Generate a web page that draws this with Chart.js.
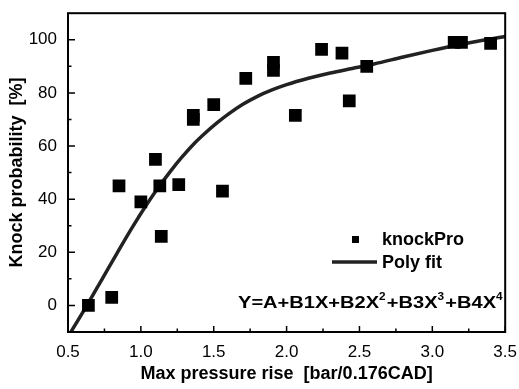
<!DOCTYPE html>
<html>
<head>
<meta charset="utf-8">
<script src="https://cdn.jsdelivr.net/npm/chart.js@4.4.1/dist/chart.umd.min.js"></script>
<style>
  html, body { margin: 0; padding: 0; background: #fff; }
  #wrap { width: 519px; height: 389px; }
</style>
</head>
<body>
<div id="wrap"><canvas id="knockChart"></canvas></div>
<script>
'use strict';

// ---- values ----
const knockX = [0.64, 0.80, 0.85, 1.00, 1.10, 1.13, 1.14, 1.26, 1.36, 1.36, 1.50, 1.56, 1.72, 1.91, 1.91, 2.06, 2.24, 2.38, 2.43, 2.55, 3.15, 3.20, 3.40];
const knockY = [0, 3, 45, 39, 55, 45, 26, 45.5, 70, 71.5, 75.6, 43, 85.5, 88.5, 91.5, 71.5, 96.4, 95, 77, 90, 99, 99, 98.6];

// poly fit curve, traced
const fitX = [0.52, 0.63, 0.74, 0.84, 0.94, 1.04, 1.12, 1.20, 1.28, 1.36, 1.44, 1.52, 1.60, 1.70, 1.80, 1.90, 2.00, 2.15, 2.30, 2.45, 2.60, 2.80, 3.00, 3.20, 3.50];
const fitY = [-10, 0, 10.5, 20, 29.3, 38, 44.4, 50.3, 55.7, 60.6, 64.8, 68.6, 72, 75.7, 78.7, 81.1, 83.1, 85.5, 87.5, 89.2, 90.9, 93.5, 96, 98.3, 101.2];

const xTicks = [0.5, 1.0, 1.5, 2.0, 2.5, 3.0, 3.5];
const xMinorTicks = [0.75, 1.25, 1.75, 2.25, 2.75, 3.25];
const yTicks = [0, 20, 40, 60, 80, 100];
const yMinorTicks = [10, 30, 50, 70, 90];

const FONT = '"Liberation Sans", Arial, sans-serif';
const toPoints = (xs, ys) => xs.map((x, i) => ({ x: x, y: ys[i] }));

// frame, inward ticks, legend and equation
const framePlugin = {
  id: 'frame',
  afterDraw(chart) {
    const { ctx, chartArea: a, scales } = chart;
    const sx = scales.x, sy = scales.y;
    ctx.save();
    ctx.strokeStyle = '#000';
    ctx.lineWidth = 2;
    ctx.strokeRect(a.left, a.top, a.right - a.left, a.bottom - a.top);

    ctx.lineWidth = 1.5;
    ctx.beginPath();
    xTicks.forEach(v => { const p = sx.getPixelForValue(v); ctx.moveTo(p, a.bottom); ctx.lineTo(p, a.bottom - 6); });
    xMinorTicks.forEach(v => { const p = sx.getPixelForValue(v); ctx.moveTo(p, a.bottom); ctx.lineTo(p, a.bottom - 3.5); });
    yTicks.forEach(v => { const p = sy.getPixelForValue(v); ctx.moveTo(a.left, p); ctx.lineTo(a.left + 7, p); });
    yMinorTicks.forEach(v => { const p = sy.getPixelForValue(v); ctx.moveTo(a.left, p); ctx.lineTo(a.left + 3.5, p); });
    ctx.stroke();

    // legend
    ctx.fillStyle = '#000';
    ctx.fillRect(352, 236, 7, 7);
    ctx.strokeStyle = '#222';
    ctx.lineWidth = 3.5;
    ctx.beginPath();
    ctx.moveTo(332, 262);
    ctx.lineTo(377, 262);
    ctx.stroke();
    ctx.font = 'bold 18px ' + FONT;
    ctx.textBaseline = 'middle';
    ctx.textAlign = 'left';
    ctx.fillText('knockPro', 382, 240);
    ctx.fillText('Poly fit', 382, 263);

    // equation with superscripts (glyphs in the original are wide)
    const parts = [['Y=A+B1X+B2X', false], ['2', true], ['+B3X', false], ['3', true], ['+B4X', false], ['4', true]];
    ctx.translate(238, 308);
    ctx.scale(1.18, 1);
    let x = 0;
    ctx.textBaseline = 'alphabetic';
    parts.forEach(([t, sup]) => {
      ctx.font = sup ? 'bold 10px ' + FONT : 'bold 17px ' + FONT;
      ctx.fillText(t, x, sup ? -8 : 0);
      x += ctx.measureText(t).width + (sup ? 1 : 0);
    });
    ctx.restore();
  },
};

new Chart(document.getElementById('knockChart'), {
  data: {
    datasets: [
      {
        type: 'scatter',
        label: 'knockPro',
        data: toPoints(knockX, knockY),
        pointStyle: 'rect',
        pointRadius: 9,
        backgroundColor: '#000',
        borderWidth: 0,
        order: 1,
      },
      {
        type: 'line',
        label: 'Poly fit',
        data: toPoints(fitX, fitY),
        borderColor: '#222',
        borderWidth: 3.5,
        pointRadius: 0,
        cubicInterpolationMode: 'monotone',
        fill: false,
        order: 2,
      },
    ],
  },
  options: {
    responsive: true,
    maintainAspectRatio: false,
    animation: false,
    layout: { padding: { top: 7, right: 11, left: 0, bottom: 0 } },
    plugins: { legend: { display: false }, tooltip: { enabled: false } },
    scales: {
      x: {
        type: 'linear',
        position: 'bottom',
        min: 0.5,
        max: 3.5,
        afterBuildTicks: s => { s.ticks = xTicks.map(v => ({ value: v })); },
        afterFit: s => { s.height = 57; },
        grid: { display: false },
        border: { display: false },
        ticks: {
          color: '#000',
          font: { size: 17, family: FONT },
          padding: 2,
          maxRotation: 0,
          autoSkip: false,
          callback: v => v.toFixed(1),
        },
        title: {
          display: true,
          text: 'Max pressure rise  [bar/0.176CAD]',
          color: '#000',
          font: { size: 18, weight: 'bold', family: FONT },
          padding: { top: 0, bottom: 4 },
        },
      },
      y: {
        type: 'linear',
        min: -10,
        max: 110,
        afterBuildTicks: s => { s.ticks = yTicks.map(v => ({ value: v })); },
        afterFit: s => { s.width = 68; },
        grid: { display: false },
        border: { display: false },
        ticks: {
          color: '#000',
          font: { size: 17, family: FONT },
          padding: 3,
          autoSkip: false,
        },
        title: {
          display: true,
          text: 'Knock probability  [%]',
          color: '#000',
          font: { size: 18, weight: 'bold', family: FONT },
          padding: { top: 6, bottom: 0 },
        },
      },
    },
  },
  plugins: [framePlugin],
});
</script>
</body>
</html>
